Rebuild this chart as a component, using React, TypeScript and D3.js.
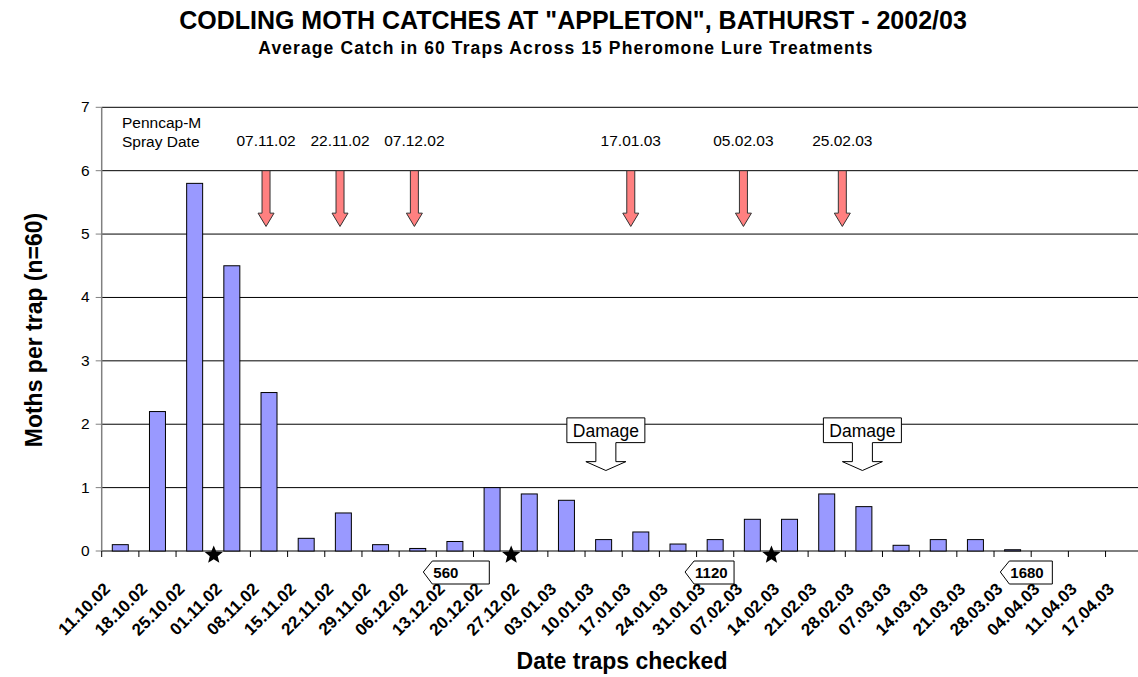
import React from "react";
import * as d3 from "d3";

const dates = [
  "11.10.02", "18.10.02", "25.10.02", "01.11.02", "08.11.02", "15.11.02", "22.11.02",
  "29.11.02", "06.12.02", "13.12.02", "20.12.02", "27.12.02", "03.01.03", "10.01.03",
  "17.01.03", "24.01.03", "31.01.03", "07.02.03", "14.02.03", "21.02.03", "28.02.03",
  "07.03.03", "14.03.03", "21.03.03", "28.03.03", "04.04.03", "11.04.03", "17.04.03",
];
const catches = [
  0.1, 2.2, 5.8, 4.5, 2.5, 0.2, 0.6, 0.1, 0.04, 0.15, 1.0, 0.9, 0.8, 0.18,
  0.3, 0.11, 0.18, 0.5, 0.5, 0.9, 0.7, 0.09, 0.18, 0.18, 0.02, 0, 0, 0,
];
const yTicks = [0, 1, 2, 3, 4, 5, 6, 7];

// spray dates, placed in weeks along the date axis
const sprayDates = ["07.11.02", "22.11.02", "07.12.02", "17.01.03", "05.02.03", "25.02.03"];
const sprayAt = [4.42, 6.41, 8.41, 14.23, 17.26, 19.92];

// lure changes (stars) and lure count callouts
const lureChangeAt = [3, 11, 18];
const lureLabels = ["560", "1120", "1680"];
const lureLabelAt = [8.65, 15.69, 24.17];
const lureBoxW = [66, 49, 52];

const damageAt = [13.56, 20.46];

const W = 1138;
const H = 677;
const left = 101.7;
const step = 37.18;
const top = 107.3;
const bottom = 551;
const font = "'Liberation Sans', Arial, sans-serif";

const starPath = (ro: number, ri: number) => {
  const pts = d3.range(10).map((k) => {
    const a = (k * Math.PI) / 5 - Math.PI / 2;
    const r = k % 2 === 0 ? ro : ri;
    return [Math.cos(a) * r, Math.sin(a) * r] as [number, number];
  });
  return d3.line()(pts) + "Z";
};

export default function App() {
  const right = left + step * dates.length;
  const x = d3.scaleLinear().domain([0, dates.length]).range([left, right]);
  const xBand = d3
    .scaleBand()
    .domain(dates)
    .range([left, right])
    .paddingInner(0.57)
    .paddingOuter(0.285);
  const y = d3.scaleLinear().domain([0, 7]).range([bottom, top]);
  const star = starPath(9.5, 4.2);

  const arrowPath = (cx: number) => {
    const y0 = y(6);
    const yh = y(5.33);
    const yt = y(5.12);
    return `M${cx - 4},${y0}L${cx + 4},${y0}L${cx + 4},${yh}L${cx + 8},${yh}L${cx},${yt}L${cx - 8},${yh}L${cx - 4},${yh}Z`;
  };

  const damagePath = (cx: number) => {
    const t = y(2.1);
    const b = y(1.71);
    const hs = y(1.41);
    const tip = y(1.27);
    const bw = 39;
    return `M${cx - bw},${t}L${cx + bw},${t}L${cx + bw},${b}L${cx + 10},${b}L${cx + 10},${hs}L${cx + 20},${hs}L${cx},${tip}L${cx - 20},${hs}L${cx - 10},${hs}L${cx - 10},${b}L${cx - bw},${b}Z`;
  };

  const lurePath = (tx: number, w: number) => {
    const ty = bottom + 21;
    return `M${tx},${ty}L${tx + 9},${ty - 11}L${tx + w},${ty - 11}L${tx + w},${ty + 12}L${tx + 9},${ty + 12}Z`;
  };

  return (
    <svg
      width={W}
      height={H}
      style={{ position: "absolute", left: 0, top: 0, background: "#fff" }}
      fontFamily={font}
    >
      <text x={573} y={29} textAnchor="middle" fontSize={25} fontWeight="bold">
        CODLING MOTH CATCHES AT "APPLETON", BATHURST - 2002/03
      </text>
      <text
        x={566}
        y={54}
        textAnchor="middle"
        fontSize={17.5}
        fontWeight="bold"
        letterSpacing={1.1}
      >
        Average Catch in 60 Traps Across 15 Pheromone Lure Treatments
      </text>

      {/* grid */}
      {yTicks.map((t) => (
        <g key={t}>
          <line x1={left} x2={right} y1={y(t)} y2={y(t)} stroke="#000" strokeWidth={1} />
          <line x1={left - 6} x2={left} y1={y(t)} y2={y(t)} stroke="#808080" />
          <text x={left - 12} y={y(t) + 5} textAnchor="end" fontSize={15.5}>
            {t}
          </text>
        </g>
      ))}
      <line x1={left} x2={left} y1={top} y2={bottom} stroke="#808080" strokeWidth={1.5} />

      {/* x ticks */}
      {d3.range(dates.length + 1).map((i) => (
        <line key={i} x1={x(i)} x2={x(i)} y1={bottom} y2={bottom + 6} stroke="#000" />
      ))}
      {dates.map((d, i) => {
        const cx = x(i + 0.5) - 9;
        return (
          <text
            key={d}
            transform={`translate(${cx},590) rotate(-45)`}
            textAnchor="end"
            fontSize={17}
            fontWeight="bold"
          >
            {d}
          </text>
        );
      })}

      {/* bars */}
      {catches.map((v, i) =>
        v > 0 ? (
          <rect
            key={i}
            x={xBand(dates[i])}
            y={y(v)}
            width={xBand.bandwidth()}
            height={bottom - y(v)}
            fill="#9999FF"
            stroke="#000"
            strokeWidth={1}
          />
        ) : null
      )}

      {/* spray arrows */}
      <text x={122} y={128} fontSize={15.5}>Penncap-M</text>
      <text x={122} y={147} fontSize={15.5}>Spray Date</text>
      {sprayDates.map((d, i) => (
        <g key={d}>
          <text x={x(sprayAt[i])} y={146} textAnchor="middle" fontSize={15.5}>
            {d}
          </text>
          <path d={arrowPath(x(sprayAt[i]))} fill="#FF8080" stroke="#333" strokeWidth={1} />
        </g>
      ))}

      {/* damage callouts */}
      {damageAt.map((p, i) => (
        <g key={i}>
          <path d={damagePath(x(p))} fill="#fff" stroke="#000" strokeWidth={1} />
          <text x={x(p)} y={y(2.1) + 19} textAnchor="middle" fontSize={17.5}>
            Damage
          </text>
        </g>
      ))}

      {/* lure change stars */}
      {lureChangeAt.map((p) => (
        <path key={p} d={star} transform={`translate(${x(p) + 0.5},${bottom + 4})`} fill="#000" />
      ))}
      {lureLabels.map((l, i) => {
        const tx = x(lureLabelAt[i]);
        return (
          <g key={l}>
            <path d={lurePath(tx, lureBoxW[i])} fill="#fff" stroke="#000" strokeWidth={1} />
            <text x={tx + 10} y={bottom + 27} fontSize={15} fontWeight="bold">
              {l}
            </text>
          </g>
        );
      })}

      <text
        transform={`translate(42,330) rotate(-90)`}
        textAnchor="middle"
        fontSize={23}
        fontWeight="bold"
      >
        Moths per trap (n=60)
      </text>
      <text x={622} y={669} textAnchor="middle" fontSize={23} fontWeight="bold">
        Date traps checked
      </text>
    </svg>
  );
}
